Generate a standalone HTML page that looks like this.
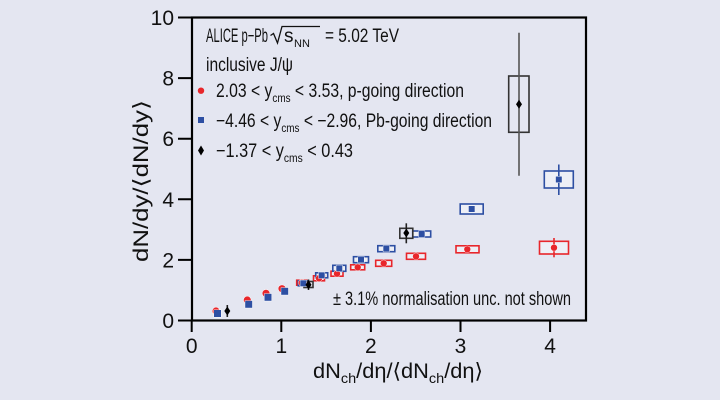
<!DOCTYPE html>
<html>
<head>
<meta charset="utf-8">
<style>
  html,body{margin:0;padding:0;background:#e4e6f1;}
  svg{display:block;}
  text{font-family:"Liberation Sans","DejaVu Sans",sans-serif;fill:#111;}
</style>
</head>
<body>
<svg width="720" height="400" viewBox="0 0 720 400" xmlns="http://www.w3.org/2000/svg">
  <rect x="0" y="0" width="720" height="400" fill="#e4e6f1"/>

  <!-- frame -->
  <rect x="192" y="17.5" width="394" height="303" fill="none" stroke="#000" stroke-width="2.2"/>

  <!-- y ticks -->
  <path d="M178 320.5H192 M178 259.9H192 M178 199.3H192 M178 138.7H192 M178 78.1H192 M178 17.5H192" stroke="#000" stroke-width="2"/>
  <!-- x ticks -->
  <path d="M191.7 320.5V332 M281.3 320.5V332 M370.9 320.5V332 M460.5 320.5V332 M550.1 320.5V332" stroke="#000" stroke-width="2"/>

  <!-- y tick labels -->
  <g font-size="21" text-anchor="end">
    <text x="174" y="328">0</text>
    <text x="174" y="267.4">2</text>
    <text x="174" y="206.8">4</text>
    <text x="174" y="146.2">6</text>
    <text x="174" y="85.6">8</text>
    <text x="174" y="25">10</text>
  </g>
  <!-- x tick labels -->
  <g font-size="21" text-anchor="middle">
    <text x="191.7" y="353">0</text>
    <text x="281.3" y="353">1</text>
    <text x="370.9" y="353">2</text>
    <text x="460.5" y="353">3</text>
    <text x="550.1" y="353">4</text>
  </g>

  <!-- axis labels -->
  <text transform="translate(148,262) rotate(-90)" font-size="21" textLength="162" lengthAdjust="spacingAndGlyphs">dN/dy/⟨dN/dy⟩</text>
  <text x="313" y="378" font-size="21" textLength="170" lengthAdjust="spacingAndGlyphs">dN<tspan font-size="14" dy="5">ch</tspan><tspan dy="-5">/dη/⟨dN</tspan><tspan font-size="14" dy="5">ch</tspan><tspan dy="-5">/dη⟩</tspan></text>

  <!-- legend title -->
  <text x="206" y="42" font-size="19" textLength="62" lengthAdjust="spacingAndGlyphs">ALICE p−Pb</text>
  <path d="M270.5 35.5 L273.5 33.5 L277.5 43 L282 26.5 L320 26.5" fill="none" stroke="#111" stroke-width="1.3"/>
  <text x="284" y="42" font-size="19">s</text>
  <text x="294" y="47" font-size="11">NN</text>
  <text x="325" y="42" font-size="19" textLength="74" lengthAdjust="spacingAndGlyphs">= 5.02 TeV</text>
  <text x="206" y="71" font-size="19" textLength="87" lengthAdjust="spacingAndGlyphs">inclusive J/ψ</text>

  <!-- legend rows -->
  <circle cx="201" cy="90.7" r="3.2" fill="#e8262b"/>
  <text x="216" y="97" font-size="19" textLength="248" lengthAdjust="spacingAndGlyphs">2.03 &lt; y<tspan font-size="12" dy="5">cms</tspan><tspan dy="-5"> &lt; 3.53, p-going direction</tspan></text>

  <rect x="198" y="117" width="6" height="6" fill="#2d4fa3"/>
  <text x="216" y="127" font-size="19" textLength="276" lengthAdjust="spacingAndGlyphs">−4.46 &lt; y<tspan font-size="12" dy="5">cms</tspan><tspan dy="-5"> &lt; −2.96, Pb-going direction</tspan></text>

  <polygon points="201,145.5 204,150.5 201,155.5 198,150.5" fill="#000"/>
  <text x="216" y="157" font-size="19" textLength="137" lengthAdjust="spacingAndGlyphs">−1.37 &lt; y<tspan font-size="12" dy="5">cms</tspan><tspan dy="-5"> &lt; 0.43</tspan></text>

  <!-- normalisation text -->
  <text x="333" y="305" font-size="19" textLength="238" lengthAdjust="spacingAndGlyphs">± 3.1% normalisation unc. not shown</text>

  <!-- red systematic boxes -->
  <g fill="rgba(255,255,255,0.35)" stroke="#e8262b" stroke-width="1.6">
    <rect x="296.7" y="280.2" width="10" height="5"/>
    <rect x="313.5" y="275.8" width="11" height="5"/>
    <rect x="331" y="271.2" width="12" height="5"/>
    <rect x="350.7" y="264.8" width="14" height="5"/>
    <rect x="375.7" y="260.3" width="16" height="6"/>
    <rect x="406.5" y="253.3" width="19" height="6"/>
    <rect x="456" y="245.8" width="23" height="7"/>
    <rect x="539.5" y="241.3" width="29" height="12.7"/>
  </g>
  <!-- blue systematic boxes -->
  <g fill="rgba(255,255,255,0.35)" stroke="#2d4fa3" stroke-width="1.6">
    <rect x="298.3" y="280.8" width="10" height="5"/>
    <rect x="315.7" y="272.8" width="12" height="5"/>
    <rect x="332.8" y="265.3" width="13" height="6"/>
    <rect x="353.5" y="256.7" width="15" height="6"/>
    <rect x="377.8" y="245.7" width="17" height="6"/>
    <rect x="412.7" y="231" width="18" height="6"/>
    <rect x="460.2" y="204" width="23" height="10"/>
    <rect x="544.3" y="171" width="29" height="17"/>
  </g>
  <!-- black boxes -->
  <g fill="none" stroke="#333" stroke-width="1.6">
    <rect x="304" y="281.5" width="9" height="6"/>
    <rect x="399.8" y="228.3" width="13" height="10"/>
    <rect x="508.7" y="76" width="20.3" height="56.3"/>
  </g>

  <!-- error bars -->
  <g stroke-width="1.6">
    <line x1="554" y1="238" x2="554" y2="257.3" stroke="#e8262b"/>
    <line x1="558.8" y1="164.5" x2="558.8" y2="195" stroke="#2d4fa3"/>
    <line x1="519" y1="32.7" x2="519" y2="175.7" stroke="#555"/>
    <line x1="406.3" y1="223.3" x2="406.3" y2="243.3" stroke="#222"/>
    <line x1="308.5" y1="279.5" x2="308.5" y2="290" stroke="#222"/>
    <line x1="227.3" y1="305" x2="227.3" y2="317" stroke="#222"/>
  </g>

  <!-- red markers -->
  <g fill="#e8262b" stroke="#fff" stroke-width="0.8" paint-order="stroke">
    <circle cx="216" cy="311" r="3.6"/>
    <circle cx="247.3" cy="300" r="3.6"/>
    <circle cx="266" cy="293.3" r="3.6"/>
    <circle cx="282" cy="288.7" r="3.6"/>
    <circle cx="301.7" cy="282.7" r="3.2"/>
    <circle cx="319" cy="278.3" r="3.2"/>
    <circle cx="337" cy="273.7" r="3.2"/>
    <circle cx="357.7" cy="267.3" r="3.2"/>
    <circle cx="383.7" cy="263.3" r="3.2"/>
    <circle cx="416" cy="256.3" r="3.2"/>
    <circle cx="467.3" cy="249.3" r="3.2"/>
    <circle cx="554" cy="247.7" r="3.2"/>
  </g>
  <!-- blue markers -->
  <g fill="#2d4fa3" stroke="#fff" stroke-width="0.8" paint-order="stroke">
    <rect x="214" y="310" width="7" height="7"/>
    <rect x="245.2" y="300.8" width="7" height="7"/>
    <rect x="264.5" y="293.8" width="7" height="7"/>
    <rect x="281.2" y="287.8" width="7" height="7"/>
    <rect x="300.3" y="280.3" width="6" height="6"/>
    <rect x="318.7" y="272.3" width="6" height="6"/>
    <rect x="336.3" y="265.3" width="6" height="6"/>
    <rect x="358" y="256.7" width="6" height="6"/>
    <rect x="383.3" y="245.7" width="6" height="6"/>
    <rect x="418.7" y="231" width="6" height="6"/>
    <rect x="468.7" y="206" width="6" height="6"/>
    <rect x="555.8" y="176.5" width="6" height="6"/>
  </g>
  <!-- black markers -->
  <g fill="#000">
    <polygon points="227.3,306.5 230.3,311 227.3,315.5 224.3,311"/>
    <polygon points="308.5,280.2 311.5,284.7 308.5,289.2 305.5,284.7"/>
    <polygon points="406.3,228.5 409.3,233 406.3,237.5 403.3,233"/>
    <polygon points="519,99.8 522,104.3 519,108.8 516,104.3"/>
  </g>
</svg>
</body>
</html>
